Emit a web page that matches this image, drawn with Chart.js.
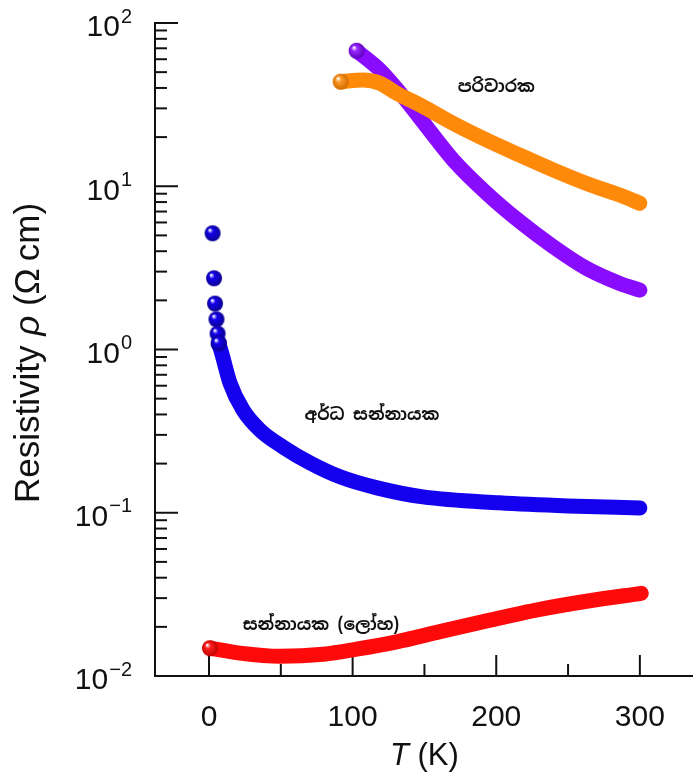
<!DOCTYPE html>
<html>
<head>
<meta charset="utf-8">
<script src="https://cdn.jsdelivr.net/npm/chart.js@4.4.0/dist/chart.umd.min.js"></script>
<style>
  html, body { margin: 0; padding: 0; background: #fff; }
  #wrap { width: 693px; height: 778px; }
</style>
</head>
<body>
<div id="wrap"><canvas id="chart" width="693" height="778"></canvas></div>
<script>
// ---------- data (T in K, rho in ohm cm) ----------
const semiDotsT   = [2.5, 3.5, 4.2, 5.2, 6.0, 6.8];
const semiDotsRho = [5.15, 2.73, 1.91, 1.53, 1.25, 1.09];

const semiT   = [6.8, 8.8, 14.6, 23.7, 35.5, 51.5, 70.3, 91.2, 117, 149, 202, 250, 300];
const semiRho = [1.09, 0.953, 0.624, 0.426, 0.321, 0.253, 0.202, 0.166, 0.142, 0.125, 0.115, 0.110, 0.107];

const metalT   = [0.7, 21.6, 49.4, 79.6, 102.8, 130.6, 160.8, 195.6, 230.4, 265, 301];
const metalRho = [0.0148, 0.0138, 0.0132, 0.0136, 0.0146, 0.0162, 0.0187, 0.0220, 0.0256, 0.0289, 0.0321];

const orangeT   = [91.7, 107.4, 119, 130.6, 146.9, 170, 193.3, 216.5, 239.6, 262.9, 286, 300];
const orangeRho = [43.7, 44.8, 42.8, 37.1, 31.5, 24.3, 19.2, 15.5, 12.6, 10.4, 8.83, 7.87];

const purpleT   = [102.8, 119, 135.2, 151.5, 170, 193.3, 216.5, 239.6, 262.9, 286, 300];
const purpleRho = [67.6, 51.5, 35.4, 23.2, 14.5, 9.07, 6.07, 4.27, 3.14, 2.54, 2.31];

const xTickValues = [0, 50, 100, 150, 200, 250, 300];
const xTickLabels = ['0', '', '100', '', '200', '', '300'];
const yDecades = [-2, -1, 0, 1, 2];

const curveLabels = [
  { text: 'පරිවාරක', T: 200, rho: 40.6 },
  { text: 'අර්ධ සන්නායක', T: 113.5, rho: 0.397 },
  { text: 'සන්නායක (ලෝහ)', T: 78, rho: 0.0205 }
];

const FONT = '"Liberation Sans", Arial, Helvetica, sans-serif';
const SIN_FONT = '"Noto Sans Sinhala", "Iskoola Pota", "Noto Sans", sans-serif';

// ---------- helpers ----------
function toPoints(xs, ys) {
  return xs.map((x, i) => ({ x, y: ys[i] }));
}

// small shaded sphere used as point style
function makeBall(color, dark, r) {
  const c = document.createElement('canvas');
  c.width = c.height = 2 * r + 2;
  const g = c.getContext('2d');
  const grad = g.createRadialGradient(r * 0.75, r * 0.7, 0.5, r + 1, r + 1, r);
  grad.addColorStop(0, '#ffffff');
  grad.addColorStop(0.3, color);
  grad.addColorStop(1, dark);
  g.fillStyle = grad;
  g.beginPath();
  g.arc(r + 1, r + 1, r, 0, Math.PI * 2);
  g.fill();
  return c;
}

function curve(data, color, startBall) {
  return {
    data,
    showLine: true,
    borderColor: color,
    backgroundColor: color,
    borderWidth: 15,
    borderCapStyle: 'round',
    borderJoinStyle: 'round',
    cubicInterpolationMode: 'monotone',
    pointRadius: data.map((p, i) => (i === 0 ? 8 : 0)),
    pointStyle: data.map((p, i) => (i === 0 ? startBall : 'circle')),
    pointHoverRadius: 0
  };
}

const blueBall = makeBall('#1400ee', '#0a0090', 8);

// ---------- custom axes: inward ticks, power-of-ten labels, titles ----------
const axesPlugin = {
  id: 'axesPlugin',
  beforeDatasetsDraw(chart) {
    const { ctx, scales: { x, y }, chartArea } = chart;
    ctx.save();
    ctx.strokeStyle = '#111';
    ctx.lineWidth = 2;
    // y ticks pointing into the plot
    yDecades.forEach((d, idx) => {
      const py = y.getPixelForValue(Math.pow(10, d));
      ctx.beginPath();
      ctx.moveTo(chartArea.left, py);
      ctx.lineTo(chartArea.left + 23, py);
      ctx.stroke();
      if (idx < yDecades.length - 1) {
        for (let m = 2; m <= 9; m++) {
          const pm = y.getPixelForValue(m * Math.pow(10, d));
          ctx.beginPath();
          ctx.moveTo(chartArea.left, pm);
          ctx.lineTo(chartArea.left + 12, pm);
          ctx.stroke();
        }
      }
    });
    // x ticks pointing up
    xTickValues.forEach((v, i) => {
      const px = x.getPixelForValue(v);
      const len = xTickLabels[i] ? 21 : 12;
      ctx.beginPath();
      ctx.moveTo(px, chartArea.bottom);
      ctx.lineTo(px, chartArea.bottom - len);
      ctx.stroke();
    });
    ctx.restore();
  },
  afterDatasetsDraw(chart) {
    const { ctx, scales: { x, y }, chartArea } = chart;
    ctx.save();
    ctx.fillStyle = '#111';
    ctx.textBaseline = 'middle';

    // y labels 10^n
    yDecades.forEach(d => {
      const py = y.getPixelForValue(Math.pow(10, d));
      const exp = d < 0 ? '\u2212' + Math.abs(d) : String(d);
      ctx.font = '20px ' + FONT;
      const ew = ctx.measureText(exp).width;
      const right = 132;
      ctx.textAlign = 'left';
      ctx.fillText(exp, right - ew, py - 6);
      ctx.font = '30px ' + FONT;
      ctx.textAlign = 'right';
      ctx.fillText('10', right - ew - 1, py + 5);
    });

    // x labels
    ctx.font = '30px ' + FONT;
    ctx.textAlign = 'center';
    xTickValues.forEach((v, i) => {
      if (xTickLabels[i]) ctx.fillText(xTickLabels[i], x.getPixelForValue(v), chartArea.bottom + 42);
    });

    // x title: T (K)
    const xt = [['T', 'italic 31px '], [' (K)', '31px ']];
    let w = 0;
    xt.forEach(([s, f]) => { ctx.font = f + FONT; w += ctx.measureText(s).width; });
    let cx = x.getPixelForValue(150) - w / 2;
    ctx.textAlign = 'left';
    xt.forEach(([s, f]) => { ctx.font = f + FONT; ctx.fillText(s, cx, 756); cx += ctx.measureText(s).width; });

    // y title: Resistivity rho (Omega cm)
    const yt = [['Resistivity ', '35px '], ['\u03C1', 'italic 35px '], [' (\u03A9\u2009cm)', '35px ']];
    w = 0;
    yt.forEach(([s, f]) => { ctx.font = f + FONT; w += ctx.measureText(s).width; });
    ctx.translate(29, 353);
    ctx.rotate(-Math.PI / 2);
    cx = -w / 2;
    yt.forEach(([s, f]) => { ctx.font = f + FONT; ctx.fillText(s, cx, 0); cx += ctx.measureText(s).width; });
    ctx.setTransform(1, 0, 0, 1, 0, 0);

    // curve labels
    ctx.font = 'bold 17px ' + SIN_FONT;
    ctx.textAlign = 'center';
    ctx.fillStyle = '#111';
    curveLabels.forEach(l => {
      ctx.fillText(l.text, x.getPixelForValue(l.T), y.getPixelForValue(l.rho));
    });
    ctx.restore();
  }
};

new Chart(document.getElementById('chart'), {
  type: 'scatter',
  data: {
    datasets: [
      curve(toPoints(metalT, metalRho), '#ff0a0a', makeBall('#ff2020', '#c00000', 8)),
      curve(toPoints(semiT, semiRho), '#1400ee', blueBall),
      {
        data: toPoints(semiDotsT, semiDotsRho),
        showLine: false,
        pointStyle: blueBall,
        pointRadius: 8,
        pointHoverRadius: 0
      },
      curve(toPoints(orangeT, orangeRho), '#ff8a0a', makeBall('#ff9a2a', '#d06a00', 8)),
      curve(toPoints(purpleT, purpleRho), '#8a0cff', makeBall('#9a2aff', '#6000c0', 8))
    ]
  },
  options: {
    responsive: false,
    animation: false,
    events: [],
    layout: { autoPadding: false, padding: { top: 23, right: 0, left: 0, bottom: 0 } },
    plugins: { legend: { display: false }, tooltip: { enabled: false } },
    scales: {
      x: {
        type: 'linear',
        min: -37.6,
        max: 337,
        grid: { display: false },
        ticks: { display: false },
        border: { display: true, color: '#111', width: 2 },
        afterFit: s => { s.height = 102; }
      },
      y: {
        type: 'logarithmic',
        min: 0.01,
        max: 100,
        grid: { display: false },
        ticks: { display: false },
        border: { display: true, color: '#111', width: 2 },
        afterFit: s => { s.width = 155; }
      }
    }
  },
  plugins: [axesPlugin]
});
</script>
</body>
</html>
